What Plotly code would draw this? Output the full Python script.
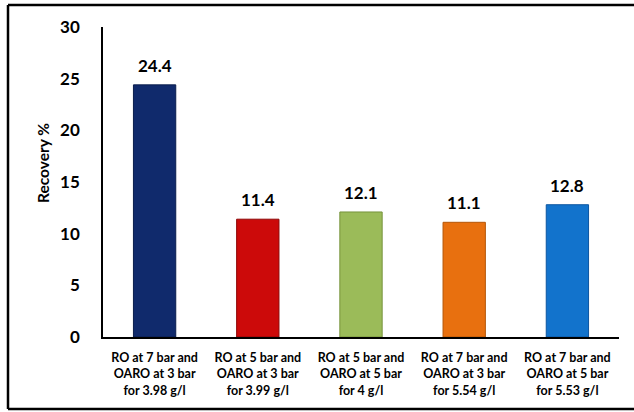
import plotly.graph_objects as go

categories = [
    "RO at 7 bar and<br>OARO at 3 bar<br>for 3.98 g/l",
    "RO at 5 bar and<br>OARO at 3 bar<br>for 3.99 g/l",
    "RO at 5 bar and<br>OARO at 5 bar<br>for 4 g/l",
    "RO at 7 bar and<br>OARO at 3 bar<br>for 5.54 g/l",
    "RO at 7 bar and<br>OARO at 5 bar<br>for 5.53 g/l",
]
recovery = [24.4, 11.4, 12.1, 11.1, 12.8]
bar_colors = ["#102A6C", "#CC0A0A", "#9BBB59", "#E8700F", "#1273CC"]
edge_colors = ["#0A1D4C", "#8E0606", "#76933C", "#B45608", "#0C56A0"]
y_ticks = [0, 5, 10, 15, 20, 25, 30]

W, H = 634, 412
M_L, M_R, M_T, M_B = 103, 15, 27, 75
PW, PH = W - M_L - M_R, H - M_T - M_B


def px_x(p):
    return (p - M_L) / PW


def px_y(p):
    return (H - M_B - p) / PH


FONT = "Lato, Carlito, sans-serif"

fig = go.Figure(
    go.Bar(
        x=categories,
        y=recovery,
        marker=dict(color=bar_colors, line=dict(color=edge_colors, width=1)),
        width=0.41,
        hoverinfo="x+y",
    )
)

# value labels above each bar
for c, v in zip(categories, recovery):
    fig.add_annotation(
        x=c, y=v, text=f"<b>{v}</b>", showarrow=False,
        yanchor="bottom", yshift=7,
        font=dict(family=FONT, size=17, color="#000000"),
    )

# y-axis title
fig.add_annotation(
    xref="paper", yref="paper",
    x=px_x(43), y=px_y(163),
    text="<b>Recovery %</b>", textangle=-90, showarrow=False,
    xanchor="center", yanchor="middle",
    font=dict(family=FONT, size=15.5, color="#000000"),
)

# outer frame: left, top and bottom edges
frame = dict(color="#000000", width=2.5)
fig.add_shape(type="line", xref="paper", yref="paper",
              x0=px_x(8), x1=px_x(8), y0=px_y(409), y1=px_y(5), line=frame)
fig.add_shape(type="line", xref="paper", yref="paper",
              x0=px_x(8), x1=px_x(W), y0=px_y(5), y1=px_y(5), line=frame)
fig.add_shape(type="line", xref="paper", yref="paper",
              x0=px_x(8), x1=px_x(W), y0=px_y(409), y1=px_y(409), line=frame)

fig.update_layout(
    width=W, height=H,
    margin=dict(l=M_L, r=M_R, t=M_T, b=M_B),
    paper_bgcolor="#FFFFFF", plot_bgcolor="#FFFFFF",
    showlegend=False,
    bargap=0.59,
    font=dict(family=FONT, color="#000000"),
)
fig.update_xaxes(
    showline=True, linecolor="#000000", linewidth=2,
    showgrid=False, ticks="",
    tickfont=dict(family=FONT, size=12.5, color="#000000"),
    ticklabelstandoff=8,
    tickvals=categories,
    ticktext=[f"<b>{c}</b>" for c in categories],
)
fig.update_yaxes(
    range=[0, 30], tickvals=y_ticks,
    ticktext=[f"<b>{t}</b>" for t in y_ticks],
    showline=True, linecolor="#000000", linewidth=1.5,
    showgrid=False, zeroline=False, ticks="",
    ticklabelstandoff=18,
    tickfont=dict(family=FONT, size=17, color="#000000"),
)

fig.write_html("out.html", config={"displayModeBar": False})
